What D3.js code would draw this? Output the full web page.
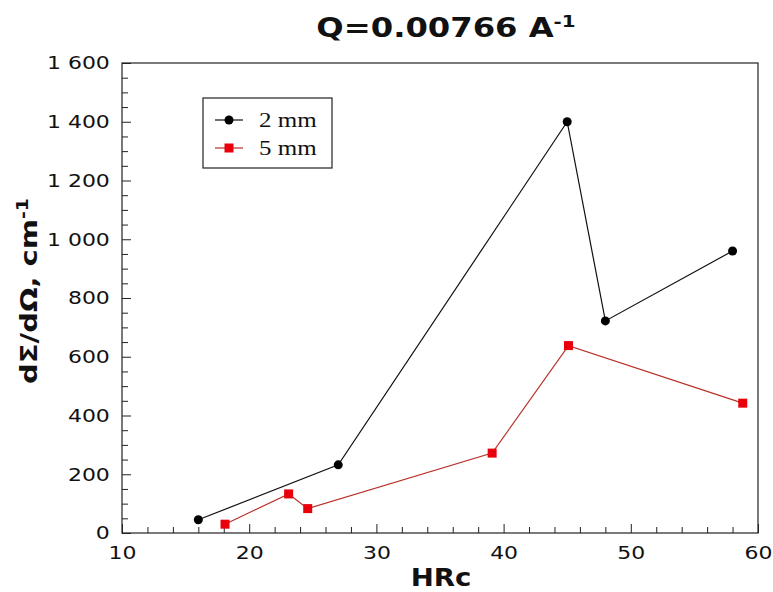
<!DOCTYPE html>
<html>
<head>
<meta charset="utf-8">
<script src="https://cdn.jsdelivr.net/npm/d3@7"></script>
<style>
  body { margin: 0; background: #fff; }
  svg { display: block; }
</style>
</head>
<body>
<svg id="chart" width="773" height="592"></svg>
<script>
// ---- Data ----
const hrc2mm = [16, 27, 45, 48, 58];
const val2mm = [45, 232, 1400, 722, 960];
const hrc5mm = [18.1, 23.1, 24.6, 39.1, 45.1, 58.8];
const val5mm = [30, 133, 83, 272, 638, 442];
const seriesNames = ["2 mm", "5 mm"];
const xTicks = [10, 20, 30, 40, 50, 60];
const yTicks = [0, 200, 400, 600, 800, 1000, 1200, 1400, 1600];

// ---- Layout ----
const svg = d3.select("#chart");
const L = 122, R = 758, T = 63, B = 533;
const x = d3.scaleLinear().domain([10, 60]).range([L, R]);
const y = d3.scaleLinear().domain([0, 1600]).range([B, T]);
const fmt = d3.formatLocale({decimal: ".", thousands: " ", grouping: [3], currency: ["", ""]}).format(",");
const sans = "'DejaVu Sans', sans-serif";
const KX = 1.22; // horizontal widening of glyphs seen in reference

// frame
svg.append("rect").attr("x", L).attr("y", T).attr("width", R - L).attr("height", B - T)
  .attr("fill", "none").attr("stroke", "#222").attr("stroke-width", 1.2);

// minor ticks
const xMinor = d3.range(10, 60.01, 2).filter(v => v % 10 !== 0);
const yMinor = d3.range(0, 1600.01, 50).filter(v => v % 200 !== 0);

const xAxis = d3.axisBottom(x).tickValues(xTicks).tickSize(-9).tickPadding(13).tickFormat(d3.format("d"));
const gx = svg.append("g").attr("transform", `translate(0,${B})`).call(xAxis);
gx.select(".domain").remove();
gx.selectAll(".tick line").attr("stroke", "#222");
gx.selectAll("text").attr("font-family", sans).attr("font-size", 18).attr("fill", "#111")
  .attr("transform", `scale(${KX},1)`);

const xAxisMinor = d3.axisBottom(x).tickValues(xMinor).tickSize(-6).tickFormat("");
const gxm = svg.append("g").attr("transform", `translate(0,${B})`).call(xAxisMinor);
gxm.select(".domain").remove();
gxm.selectAll(".tick line").attr("stroke", "#222");

const yAxis = d3.axisLeft(y).tickValues(yTicks).tickSize(-9).tickPadding(10).tickFormat(fmt);
const gy = svg.append("g").attr("transform", `translate(${L},0)`).call(yAxis);
gy.select(".domain").remove();
gy.selectAll(".tick line").attr("stroke", "#222");
gy.selectAll("text").attr("font-family", sans).attr("font-size", 18).attr("fill", "#111")
  .attr("transform", `scale(${KX},1)`);

const yAxisMinor = d3.axisLeft(y).tickValues(yMinor).tickSize(-6).tickFormat("");
const gym = svg.append("g").attr("transform", `translate(${L},0)`).call(yAxisMinor);
gym.select(".domain").remove();
gym.selectAll(".tick line").attr("stroke", "#222");

// series
const line = d3.line().x(d => x(d[0])).y(d => y(d[1]));
const d2 = hrc2mm.map((h, i) => [h, val2mm[i]]);
const d5 = hrc5mm.map((h, i) => [h, val5mm[i]]);

svg.append("path").datum(d2).attr("d", line).attr("fill", "none").attr("stroke", "#111").attr("stroke-width", 1.2);
svg.append("path").datum(d5).attr("d", line).attr("fill", "none").attr("stroke", "#b8302a").attr("stroke-width", 1.2);

svg.selectAll(".p2").data(d2).enter().append("circle")
  .attr("cx", d => x(d[0])).attr("cy", d => y(d[1])).attr("r", 4.5).attr("fill", "#000");
const s = 9;
svg.selectAll(".p5").data(d5).enter().append("rect")
  .attr("x", d => x(d[0]) - s / 2).attr("y", d => y(d[1]) - s / 2)
  .attr("width", s).attr("height", s).attr("fill", "#e8000b");

// legend
const lg = svg.append("g");
lg.append("rect").attr("x", 203).attr("y", 98).attr("width", 129).attr("height", 70)
  .attr("fill", "#fff").attr("stroke", "#222").attr("stroke-width", 1.2);
const legY = [120, 148];
lg.append("line").attr("x1", 215).attr("x2", 243).attr("y1", legY[0]).attr("y2", legY[0]).attr("stroke", "#111").attr("stroke-width", 1.2);
lg.append("circle").attr("cx", 229).attr("cy", legY[0]).attr("r", 4.5).attr("fill", "#000");
lg.append("line").attr("x1", 215).attr("x2", 243).attr("y1", legY[1]).attr("y2", legY[1]).attr("stroke", "#b8302a").attr("stroke-width", 1.2);
lg.append("rect").attr("x", 229 - s / 2).attr("y", legY[1] - s / 2).attr("width", s).attr("height", s).attr("fill", "#e8000b");
seriesNames.forEach((n, i) => {
  lg.append("g").attr("transform", `translate(259,${legY[i] + 7}) scale(1.25,1)`)
    .append("text").text(n)
    .attr("font-family", "'Liberation Serif', 'Times New Roman', serif").attr("font-size", 20).attr("fill", "#111");
});

// title
const title = svg.append("g").attr("transform", "translate(446,37) scale(1.24,1)")
  .append("text").attr("text-anchor", "middle")
  .attr("font-family", sans).attr("font-weight", "bold").attr("font-size", 26).attr("fill", "#111");
title.append("tspan").text("Q=0.00766 A");
title.append("tspan").attr("dy", -10).attr("font-size", 16).text("-1");

// x label
svg.append("g").attr("transform", "translate(441,586) scale(1.15,1)")
  .append("text").attr("text-anchor", "middle")
  .attr("font-family", sans).attr("font-weight", "bold").attr("font-size", 24).attr("fill", "#111").text("HRc");

// y label
const yl = svg.append("g").attr("transform", "translate(37,291) rotate(-90) scale(1.26,1)")
  .append("text").attr("text-anchor", "middle")
  .attr("font-family", sans).attr("font-weight", "bold").attr("font-size", 23).attr("fill", "#111");
yl.append("tspan").text("dΣ/dΩ, cm");
yl.append("tspan").attr("dy", -9).attr("font-size", 15).text("-1");
</script>
</body>
</html>
